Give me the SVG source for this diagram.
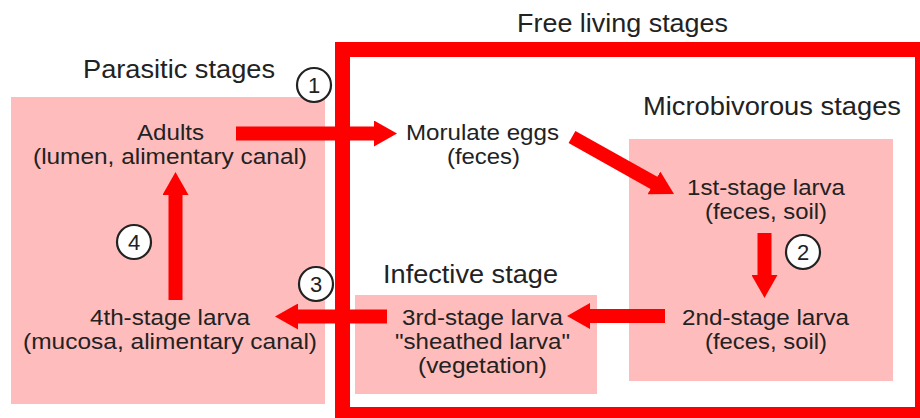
<svg xmlns="http://www.w3.org/2000/svg" width="920" height="418" viewBox="0 0 920 418">
  <style>
    .zone { fill: #ffbcbc; }
    .frame { fill: none; stroke: #ff0000; stroke-width: 15; }
    .title { font-family: "Liberation Sans", Arial, sans-serif; font-size: 25px; fill: #222; text-anchor: middle; }
    .label { font-family: "Liberation Sans", Arial, sans-serif; font-size: 22px; fill: #222; text-anchor: middle; }
    .step circle { fill: #fff; stroke: #222; stroke-width: 2.2; }
    .step text { font-family: "Liberation Sans", Arial, sans-serif; font-size: 22px; fill: #222; text-anchor: middle; }
    .flow { stroke: #ff0000; stroke-width: 14; fill: none; marker-end: url(#head); }
  </style>
  <defs>
    <marker id="head" markerUnits="userSpaceOnUse" markerWidth="24" markerHeight="26" refX="1" refY="13" orient="auto">
      <path d="M0,0 L23,13 L0,26 z" fill="#ff0000"/>
    </marker>
  </defs>

  <rect width="920" height="418" fill="#fff"/>

  <!-- stage zones -->
  <g id="parasitic-zone">
    <rect class="zone" x="11" y="97" width="314" height="307"/>
    <text class="title" x="179" y="78" textLength="192" lengthAdjust="spacingAndGlyphs">Parasitic stages</text>
  </g>
  <g id="free-living-zone">
    <rect class="frame" x="342.5" y="49.5" width="580" height="365"/>
    <text class="title" x="622.5" y="32" textLength="211" lengthAdjust="spacingAndGlyphs">Free living stages</text>
  </g>
  <g id="microbivorous-zone">
    <rect class="zone" x="629" y="139" width="264" height="242"/>
    <text class="title" x="772" y="115" textLength="258" lengthAdjust="spacingAndGlyphs">Microbivorous stages</text>
  </g>
  <g id="infective-zone">
    <rect class="zone" x="355" y="295" width="242" height="99"/>
    <text class="title" x="470.5" y="283" textLength="175" lengthAdjust="spacingAndGlyphs">Infective stage</text>
  </g>

  <!-- connectors -->
  <g id="connectors">
    <line class="flow" x1="236" y1="133.5" x2="375" y2="133.5"/>
    <line class="flow" x1="572" y1="137" x2="654.8" y2="183.3"/>
    <line class="flow" x1="764.5" y1="233" x2="764.5" y2="276"/>
    <line class="flow" x1="665" y1="316" x2="589" y2="316"/>
    <line class="flow" x1="387" y1="316.5" x2="297" y2="316.5"/>
    <line class="flow" x1="175.5" y1="300" x2="175.5" y2="194"/>
  </g>

  <!-- life-cycle stages -->
  <g id="adults">
    <text class="label" x="170.5" y="140" textLength="67" lengthAdjust="spacingAndGlyphs">Adults</text>
    <text class="label" x="170" y="164" textLength="274" lengthAdjust="spacingAndGlyphs">(lumen, alimentary canal)</text>
  </g>
  <g id="morulate-eggs">
    <text class="label" x="482.5" y="140" textLength="153" lengthAdjust="spacingAndGlyphs">Morulate eggs</text>
    <text class="label" x="483.5" y="164" textLength="73" lengthAdjust="spacingAndGlyphs">(feces)</text>
  </g>
  <g id="larva-1">
    <text class="label" x="766" y="195" textLength="158" lengthAdjust="spacingAndGlyphs">1st-stage larva</text>
    <text class="label" x="766" y="219" textLength="122" lengthAdjust="spacingAndGlyphs">(feces, soil)</text>
  </g>
  <g id="larva-2">
    <text class="label" x="765.5" y="325" textLength="167" lengthAdjust="spacingAndGlyphs">2nd-stage larva</text>
    <text class="label" x="766" y="349" textLength="122" lengthAdjust="spacingAndGlyphs">(feces, soil)</text>
  </g>
  <g id="larva-3">
    <text class="label" x="482.5" y="325" textLength="161" lengthAdjust="spacingAndGlyphs">3rd-stage larva</text>
    <text class="label" x="482.5" y="349" textLength="175" lengthAdjust="spacingAndGlyphs">"sheathed larva"</text>
    <text class="label" x="482.5" y="373" textLength="129" lengthAdjust="spacingAndGlyphs">(vegetation)</text>
  </g>
  <g id="larva-4">
    <text class="label" x="170" y="325" textLength="160" lengthAdjust="spacingAndGlyphs">4th-stage larva</text>
    <text class="label" x="170" y="349" textLength="294" lengthAdjust="spacingAndGlyphs">(mucosa, alimentary canal)</text>
  </g>

  <!-- step markers -->
  <g id="step-1" class="step"><circle cx="314" cy="85" r="17"/><text x="314" y="93">1</text></g>
  <g id="step-2" class="step"><circle cx="803" cy="252" r="17"/><text x="803" y="260">2</text></g>
  <g id="step-3" class="step"><circle cx="316" cy="284" r="17"/><text x="316" y="292">3</text></g>
  <g id="step-4" class="step"><circle cx="134" cy="242" r="17"/><text x="134" y="250">4</text></g>
</svg>
